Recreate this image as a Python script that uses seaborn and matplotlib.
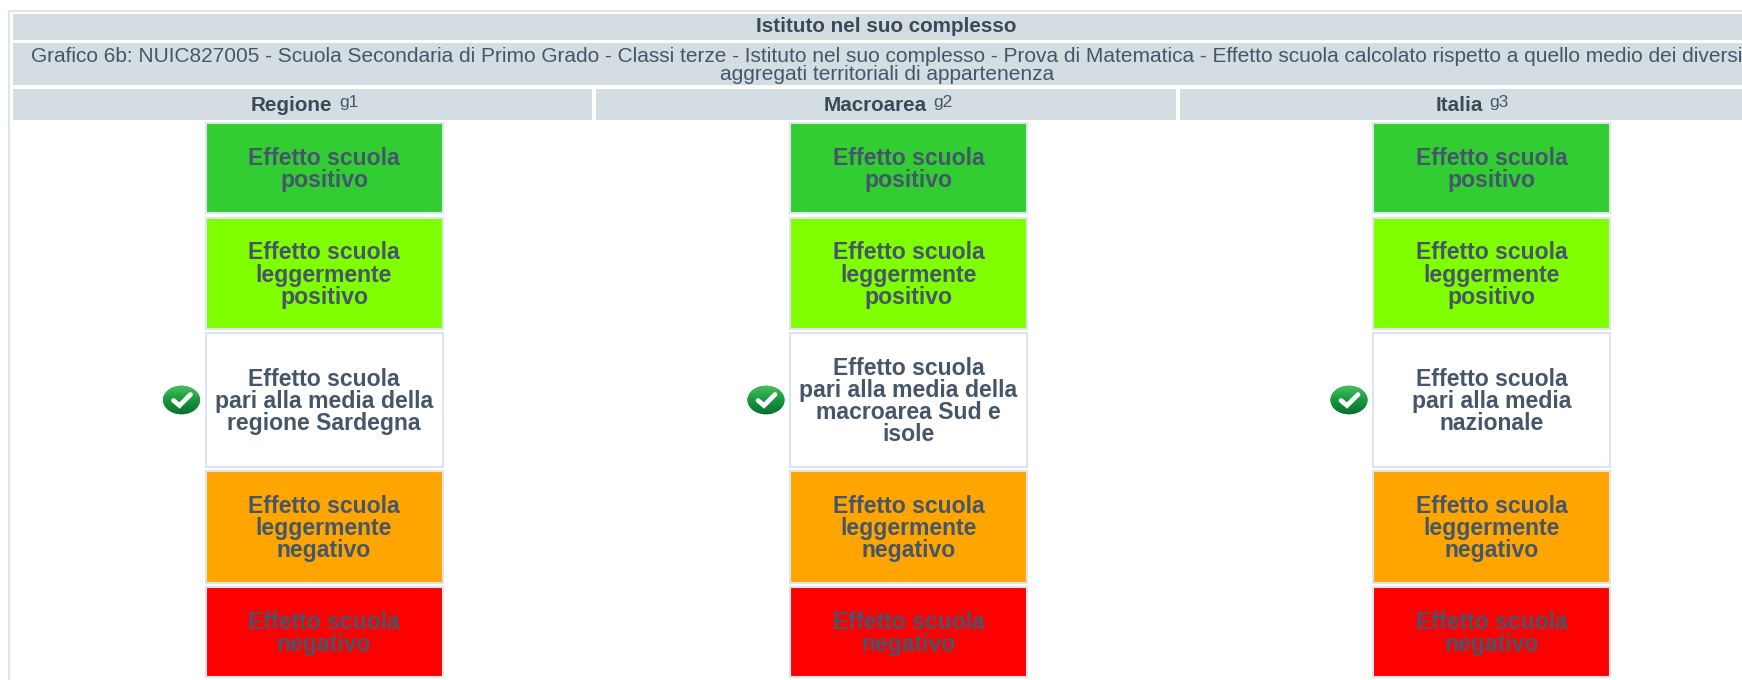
import numpy as np
import matplotlib
matplotlib.use("Agg")
import matplotlib.pyplot as plt
import seaborn as sns
from matplotlib.colors import ListedColormap
from matplotlib.patches import Ellipse, Rectangle

sns.set_theme(style="white")
plt.rcParams["font.family"] = ["Liberation Sans", "DejaVu Sans"]

#################### DATA ####################
TITLE = "Istituto nel suo complesso"
SUBTITLE = (
    "Grafico 6b: NUIC827005 - Scuola Secondaria di Primo Grado - Classi terze - "
    "Istituto nel suo complesso - Prova di Matematica - Effetto scuola calcolato "
    "rispetto a quello medio dei diversi\naggregati territoriali di appartenenza"
)
areas = ["Regione", "Macroarea", "Italia"]
area_refs = ["g1", "g2", "g3"]
level_colors = ["#32CD32", "#7FFF00", "#FFFFFF", "#FFA500", "#FF0000"]
upper_labels = ["Effetto scuola\npositivo", "Effetto scuola\nleggermente\npositivo"]
lower_labels = ["Effetto scuola\nleggermente\nnegativo", "Effetto scuola\nnegativo"]
middle_labels = [
    "Effetto scuola\npari alla media della\nregione Sardegna",
    "Effetto scuola\npari alla media della\nmacroarea Sud e\nisole",
    "Effetto scuola\npari alla media\nnazionale",
]
checked_level = [2, 2, 2]

#################### CONFIG ####################
W, H = 1742, 680
HEADER = "#D3DDE2"
BORDER = "#DCE5EA"
TEXT = "#46566A"

box_lefts = [205.5, 790, 1373]
box_width = 237
row_tops = [123, 218, 333, 471, 587]
row_heights = [90, 111, 134, 112, 90]
header_spans = [(13, 592), (596, 1176), (1180, 1760)]

fig = plt.figure(figsize=(W / 100, H / 100), dpi=100, facecolor="white")
bg = fig.add_axes([0, 0, 1, 1])
bg.set_xlim(0, W)
bg.set_ylim(H, 0)
bg.axis("off")


def band(x0, x1, y0, y1, color=HEADER):
    bg.add_patch(Rectangle((x0, y0), x1 - x0, y1 - y0, fc=color, ec="none"))


# outer table border
band(7.5, 10, 10, H, BORDER)
band(7.5, W, 10, 12, BORDER)

# header bands
band(13, W, 13.5, 39.5)
band(13, W, 42.5, 85)
bg.text(886, 27, TITLE, ha="center", va="center", size=14.9, weight="bold", color="#3C4A58")
bg.text(887, 65.5, SUBTITLE, ha="center", va="center", size=15.05, color=TEXT,
        linespacing=0.88, clip_on=True)

for name, ref, (x0, x1) in zip(areas, area_refs, header_spans):
    band(x0, x1, 88.5, 119.5)
    cx = x0 + (x1 - x0) / 2 - 11
    t = bg.text(cx, 105.5, name, ha="center", va="center", size=14.9, weight="bold", color="#3C4A58")
    bg.annotate(ref, xy=(1, 0.5), xycoords=t, xytext=(5, 2.5), textcoords="offset points",
                ha="left", va="center", size=12.5, color=TEXT)


def add_check(cx, cy):
    ell = Ellipse((cx, cy), 37, 28.5, fc="#128A3A", ec="none", zorder=3)
    bg.add_patch(ell)
    grad = np.linspace(0, 1, 64).reshape(-1, 1)
    cmap = sns.blend_palette(["#4CC05E", "#149A3E", "#0A6E2E"], as_cmap=True)
    im = bg.imshow(grad, extent=(cx - 19, cx + 19, cy + 15, cy - 15), cmap=cmap,
                   aspect="auto", zorder=3.1)
    im.set_clip_path(ell)
    bg.plot([cx - 8, cx - 2, cx + 9], [cy + 0.5, cy + 5.5, cy - 5.5], color="white",
            lw=3.4, solid_capstyle="round", solid_joinstyle="miter", zorder=3.2)


#################### BOXES ####################
for col, left in enumerate(box_lefts):
    labels = upper_labels + [middle_labels[col]] + lower_labels
    for row, (label, color) in enumerate(zip(labels, level_colors)):
        top, height = row_tops[row], row_heights[row]
        ax = fig.add_axes([left / W, 1 - (top + height) / H, box_width / W, height / H])
        sns.heatmap(
            [[row]],
            cmap=ListedColormap([color]),
            annot=[[label]],
            fmt="",
            cbar=False,
            xticklabels=False,
            yticklabels=False,
            annot_kws={"size": 16.6, "weight": "bold", "color": TEXT, "linespacing": 0.95},
            ax=ax,
        )
        ax.texts[0].set_y(0.5 + 1.5 / height)
        for s in ax.spines.values():
            s.set_visible(True)
            s.set_color(BORDER)
            s.set_linewidth(1.5)
    add_check(left - 24, row_tops[checked_level[col]] + row_heights[checked_level[col]] / 2)

bg.set_xlim(0, W)
bg.set_ylim(H, 0)
fig.savefig("out.png", dpi=100, facecolor="white")
